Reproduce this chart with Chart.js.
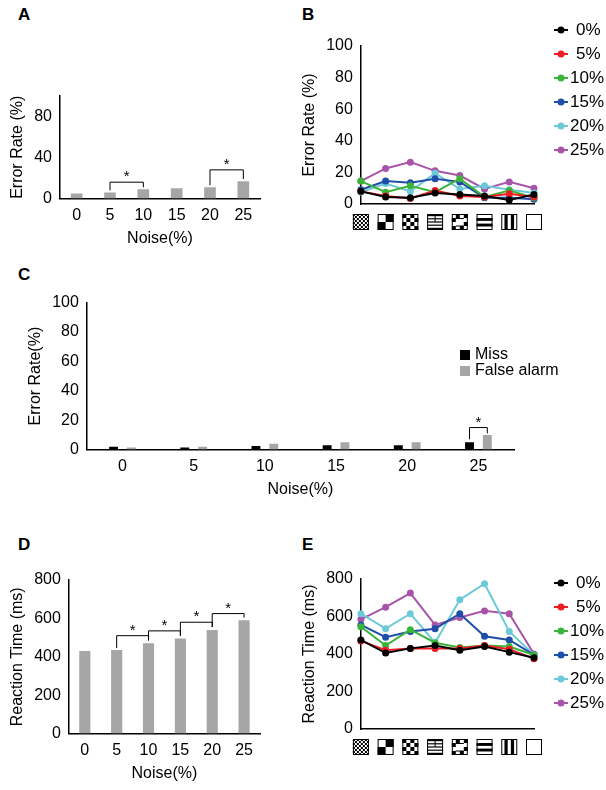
<!DOCTYPE html>
<html><head><meta charset="utf-8">
<script src="https://cdn.jsdelivr.net/npm/chart.js@4.4.0/dist/chart.umd.min.js"></script>
<style>
body{margin:0;background:#fff;width:606px;height:790px;position:relative;font-family:"Liberation Sans",Arial,sans-serif}
.c{position:absolute}
.L{position:absolute;font-weight:bold;font-size:17px}
</style></head><body>
<div class="L" style="left:18px;top:5px">A</div>
<div class="L" style="left:302px;top:5px">B</div>
<div class="L" style="left:18px;top:265px">C</div>
<div class="L" style="left:18px;top:535px">D</div>
<div class="L" style="left:302px;top:535px">E</div>
<div class="c" style="left:0;top:30px;width:290px;height:222px"><canvas id="a"></canvas></div>
<div class="c" style="left:296px;top:20px;width:310px;height:215px"><canvas id="b"></canvas></div>
<div class="c" style="left:0;top:290px;width:606px;height:213px"><canvas id="cc"></canvas></div>
<div class="c" style="left:0;top:565px;width:290px;height:222px"><canvas id="d"></canvas></div>
<div class="c" style="left:296px;top:565px;width:310px;height:195px"><canvas id="e"></canvas></div>
<script>
const noise=['0','5','10','15','20','25'];
const errA=[5,6,9,10,11,17];
const missC=[2,1.5,2.5,3,3,5];
const faC=[1.5,2,4,5,5,10];
const rtD=[430,435,470,495,540,590];
const seriesNames=['0%','5%','10%','15%','20%','25%'];
const seriesColors=['#000000','#ee1c24','#3ab53a','#1f4fa8','#6ccad8','#a854a8'];
const patterns=['p1','p2','p3','p4','p5','p6','p7','p8'];
const errB=[[8,4.5,4,7,6,5,2.5,6],[8,5,3.5,8.5,5,4.5,6.5,4.5],[14.5,7.5,11.5,7.5,16,4.5,8.5,4],[9,14.5,13.5,16,14,4,4,3],[7.5,13,8,19.5,9.5,11.5,9,7],[14.5,22.5,26.5,21,18,9.5,14,10]];
const rtE=[[475,405,430,445,420,440,410,380],[470,420,430,430,430,445,425,375],[545,445,530,460,435,445,440,395],[555,490,520,535,615,495,475,395],[615,535,615,460,690,775,520,395],[585,650,725,555,595,630,615,400]];

Chart.defaults.font.family='"Liberation Sans",Arial,sans-serif';
Chart.defaults.color='#000';
Chart.defaults.animation=false;
const F={size:16};
function bracketPlugin(pairs){return{id:'br',afterDatasetsDraw(ch){
  const c=ch.ctx,x=ch.scales.x,y=ch.scales.y;c.save();c.strokeStyle='#000';c.lineWidth=1;c.fillStyle='#000';c.font='15px "Liberation Sans"';c.textAlign='center';
  pairs.forEach(p=>{const x1=p.x1!==undefined?p.x1(ch):x.getPixelForValue(p.i),x2=p.x2!==undefined?p.x2(ch):x.getPixelForValue(p.j);
   const yt=y.getPixelForValue(p.h),y1=y.getPixelForValue(p.a),y2=y.getPixelForValue(p.b);
   c.beginPath();c.moveTo(x1,y1);c.lineTo(x1,yt);c.lineTo(x2,yt);c.lineTo(x2,y2);c.stroke();
   c.fillText('*',(x1+x2)/2,yt-1);});c.restore();}}}
function axes(yopt,xtitle){return{
  x:{grid:{display:false,drawTicks:true,tickLength:5,color:'#000'},border:{color:'#000',width:1.5},ticks:{font:F,padding:2},title:{display:!!xtitle,text:xtitle,font:F,padding:{top:2}}},
  y:Object.assign({grid:{display:false,tickLength:5,color:'#000'},border:{color:'#000',width:1.5},ticks:{font:F,padding:2}},yopt)};}
function barChart(id,data,yopt,xtitle,pairs,pad){
  return new Chart(document.getElementById(id),{type:'bar',data:{labels:noise,datasets:[{data:data,backgroundColor:'#a6a6a6',barPercentage:0.35,categoryPercentage:1}]},
  options:{responsive:true,maintainAspectRatio:false,layout:{padding:pad},plugins:{legend:{display:false},tooltip:{enabled:false}},scales:axes(yopt,xtitle)},plugins:[bracketPlugin(pairs)]});}
barChart('a',errA,{min:0,max:100,ticks:{stepSize:20,font:F},title:{display:true,text:'Error Rate (%)',font:F}},'Noise(%)',
  [{i:1,j:2,h:16,a:8,b:11},{i:4,j:5,h:28,a:13,b:19}],{left:4,top:66,right:30,bottom:0});
barChart('d',rtD,{min:0,max:800,ticks:{stepSize:200,font:F},title:{display:true,text:'Reaction Time (ms)',font:F}},'Noise(%)',
  [{i:1,j:2,h:510,a:445,b:485},{i:2,j:3,h:535,a:485,b:510},{i:3,j:4,h:580,a:510,b:555},{i:4,j:5,h:625,a:555,b:605}],{left:4,top:15,right:30,bottom:0});
new Chart(document.getElementById('cc'),{type:'bar',data:{labels:noise,datasets:[
  {label:'Miss',data:missC,backgroundColor:'#000',barPercentage:0.5,categoryPercentage:0.5},
  {label:'False alarm',data:faC,backgroundColor:'#a6a6a6',barPercentage:0.5,categoryPercentage:0.5}]},
  options:{responsive:true,maintainAspectRatio:false,layout:{padding:{left:22,top:6,right:92,bottom:0}},
  plugins:{legend:{display:false},tooltip:{enabled:false}},scales:axes({min:0,max:100,ticks:{stepSize:20,font:F},title:{display:true,text:'Error Rate(%)',font:F}},'Noise(%)')},
  plugins:[bracketPlugin([{x1:ch=>ch.getDatasetMeta(0).data[5].x,x2:ch=>ch.getDatasetMeta(1).data[5].x,h:15,a:7,b:11}]),
  {id:'lg',afterDraw(ch){const c=ch.ctx;c.save();c.font='16px "Liberation Sans"';c.textBaseline='middle';
    ch.data.datasets.forEach((d,k)=>{const y=65+k*16;c.fillStyle=d.backgroundColor;c.fillRect(460,y-5,10,10);c.fillStyle='#000';c.fillText(d.label,475,y);});c.restore();}}]});
function drawPattern(c,k,x,y,s){
  c.save();c.fillStyle='#fff';c.fillRect(x,y,s,s);c.fillStyle='#000';
  const cell=(n,f)=>{const w=s/n;for(let i=0;i<n;i++)for(let j=0;j<n;j++)if(f(i,j))c.fillRect(x+i*w,y+j*w,w,w);};
  if(k===0)cell(8,(i,j)=>(i+j)%2==0);
  else if(k===1)cell(2,(i,j)=>(i+j)%2==1);
  else if(k===2)cell(4,(i,j)=>(i+j)%2==0);
  else if(k===3){for(let i=0;i<5;i++)c.fillRect(x,y+i*s/5+1,s,1.2);c.fillRect(x+s/2-0.5,y,1,s/2);}
  else if(k===4){cell(4,(i,j)=>(i==0||i==3||j==0||j==3)&&(i+j)%2==1);c.fillRect(x+s*0.25,y+s*0.25,s*0.5,1);c.fillRect(x+s*0.25,y+s*0.72,s*0.5,1);}
  else if(k===5){c.fillRect(x,y+s*0.25,s,s*0.18);c.fillRect(x,y+s*0.6,s,s*0.18);}
  else if(k===6){c.fillRect(x+s*0.2,y,s*0.2,s);c.fillRect(x+s*0.6,y,s*0.2,s);}
  c.strokeStyle='#000';c.lineWidth=1;c.strokeRect(x+0.5,y+0.5,s-1,s-1);c.restore();}
function lineChart(id,data,yopt,top,legTop){
  return new Chart(document.getElementById(id),{type:'line',data:{labels:patterns,datasets:data.map((d,k)=>({label:seriesNames[k],data:d,borderColor:seriesColors[k],backgroundColor:seriesColors[k],borderWidth:2,pointRadius:2.5,tension:0}))},
  options:{responsive:true,maintainAspectRatio:false,layout:{padding:{left:0,top:top,right:72,bottom:26}},plugins:{legend:{display:false},tooltip:{enabled:false}},
  scales:{x:{offset:false,grid:{display:false,tickLength:5,color:'#000'},border:{color:'#000',width:1.5},ticks:{display:false}},
    y:Object.assign({grid:{display:false,tickLength:5,color:'#000'},border:{color:'#000',width:1.5},ticks:{font:F,padding:2}},yopt)}},
  plugins:[{id:'pt',afterDraw(ch){const c=ch.ctx,x=ch.scales.x,b=ch.chartArea.bottom;for(let k=0;k<8;k++)drawPattern(c,k,x.getPixelForValue(k)-8,b+10,16);
    c.save();c.font='17px "Liberation Sans"';c.textBaseline='middle';
    for(let k=0;k<6;k++){const y=legTop+k*24,lx=ch.chartArea.right+20;c.strokeStyle=seriesColors[k];c.fillStyle=seriesColors[k];c.lineWidth=2;
      c.beginPath();c.moveTo(lx,y);c.lineTo(lx+14,y);c.stroke();c.beginPath();c.arc(lx+7,y,3.5,0,7);c.fill();c.fillStyle='#000';c.fillText(seriesNames[k],lx+(k<2?22:16),y);}
    c.restore();}}]});}
lineChart('b',errB,{min:0,max:100,ticks:{stepSize:20,font:F},title:{display:true,text:'Error Rate (%)',font:F}},26,10);
lineChart('e',rtE,{min:0,max:800,ticks:{stepSize:200,font:F},title:{display:true,text:'Reaction Time (ms)',font:F}},14,18);
</script></body></html>
